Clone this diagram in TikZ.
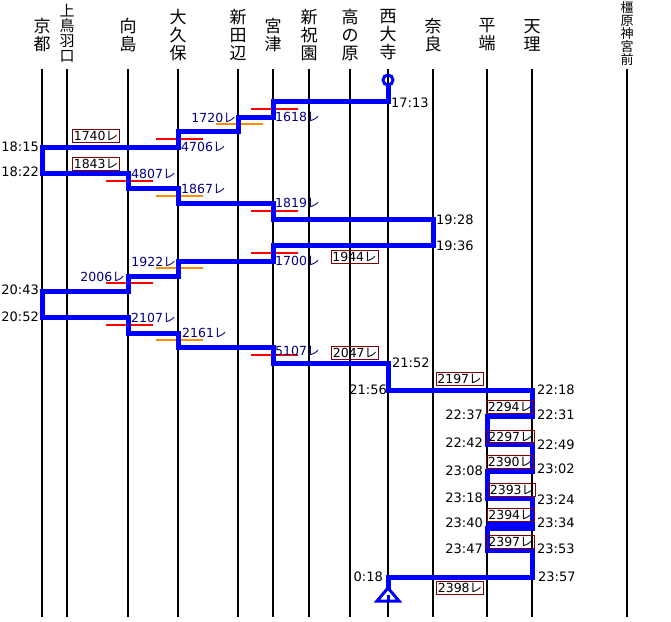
\documentclass[tikz,border=0pt]{standalone}
\usepackage{fontspec}
\setmainfont{DejaVu Sans}
\newfontfamily\jp{Noto Sans CJK JP}
\usepackage{tikz}
\usetikzlibrary{calc}
\definecolor{route}{HTML}{0000FF}
\definecolor{navyc}{HTML}{000080}
\definecolor{redc}{HTML}{FF0000}
\definecolor{orgc}{HTML}{FF8C00}
\definecolor{boxc}{HTML}{800000}
\newcommand{\trno}[1]{#1{\jp レ}}
\tikzset{
  rail/.style={line width=2pt,black},
  trip/.style={line width=5pt,route,line join=miter},
  stn/.style={font=\jp\fontsize{17}{18}\selectfont,align=center,inner sep=0pt},
  tm/.style={font=\fontsize{13}{13}\selectfont,inner sep=0pt,text height=9.5pt,text depth=0pt},
  trn/.style={font=\fontsize{12.5}{12.5}\selectfont,text=navyc,inner sep=0pt,text height=9pt,text depth=0pt},
  tagbox/.style={draw=boxc,line width=1pt,font=\fontsize{12.5}{12.5}\selectfont,inner sep=0pt,
    minimum width=47pt,minimum height=13pt,text height=9pt,text depth=0pt},
  mk/.style={line width=1.2pt}
}
\begin{document}
\begin{tikzpicture}[x=1pt,y=-1pt]
\useasboundingbox (0,0) rectangle (671,621);
\fill[white] (0,0) rectangle (671,621);
% stations
\foreach \n/\x/\lab in {kyo/42/{京\\都},muk/128/{向\\島},oku/178/{大\\久\\保},sht/238/{新\\田\\辺},
  miy/273/{宮\\津},shh/309/{新\\祝\\園},tak/350/{高\\の\\原},sai/388/{西\\大\\寺},
  nar/433/{奈\\良},hir/487/{平\\端},ten/532/{天\\理}}{
  \draw[rail] (\x,69) -- (\x,617);
  \node[stn] (s\n) at (\x,35) {\lab};
}
\draw[rail] (67,69) -- (67,617);
\node[stn,font=\jp\fontsize{15}{15}\selectfont] (skam) at (67,33) {上\\鳥\\羽\\口};
\draw[rail] (627,69) -- (627,617);
\node[stn,font=\jp\fontsize{13}{13}\selectfont] (skas) at (627,34) {橿\\原\\神\\宮\\前};
% transfer ticks
\foreach \x/\y/\col in {273/109/redc,238/124/orgc,178/139/redc,128/181/redc,178/196/orgc,
  273/211/redc,273/253/redc,178/268/orgc,128/283/redc,128/325/redc,178/340/orgc,273/355/redc}
  \draw[mk,draw=\col] (\x-22,\y) -- (\x+25,\y);
% route
\draw[trip] (388,85) -- (388,101) -- (273,101) -- (273,117) -- (238,117) -- (238,131)
  -- (178,131) -- (178,147) -- (42,147) -- (42,173) -- (128,173) -- (128,188)
  -- (178,188) -- (178,203) -- (273,203) -- (273,219) -- (433,219) -- (433,245)
  -- (273,245) -- (273,261) -- (178,261) -- (178,276) -- (128,276) -- (128,291)
  -- (42,291) -- (42,317) -- (128,317) -- (128,333) -- (178,333) -- (178,347)
  -- (273,347) -- (273,363) -- (388,363) -- (388,390) -- (532,390) -- (532,416)
  -- (487,416) -- (487,444) -- (532,444) -- (532,471) -- (487,471) -- (487,498)
  -- (532,498) -- (532,528) -- (487,528) -- (487,550) -- (532,550) -- (532,577)
  -- (388,577) -- (388,590);
\draw[trip] (487,523) -- (532,523);
\draw[route,line width=3pt] (388,80) circle (5);
\draw[route,line width=3pt,fill=white,line join=miter] (388,588) -- (399,601) -- (377,601) -- cycle;
\fill[route] (386.5,595) rectangle (389.5,600);
% train numbers
\node[trn,anchor=west] (n1618) at (275,117) {\trno{1618}};
\node[trn,anchor=east] (n1720) at (236,118) {\trno{1720}};
\node[trn,anchor=west] (n4706) at (181,147) {\trno{4706}};
\node[trn,anchor=west] (n4807) at (131,174) {\trno{4807}};
\node[trn,anchor=west] (n1867) at (181,189) {\trno{1867}};
\node[trn,anchor=west] (n1819) at (275,203) {\trno{1819}};
\node[trn,anchor=west] (n1700) at (275,261) {\trno{1700}};
\node[trn,anchor=east] (n1922) at (176,262) {\trno{1922}};
\node[trn,anchor=east] (n2006) at (125,277) {\trno{2006}};
\node[trn,anchor=west] (n2107) at (131,318) {\trno{2107}};
\node[trn,anchor=west] (n2161) at (182,333) {\trno{2161}};
\node[trn,anchor=west] (n5107) at (275,351) {\trno{5107}};
\node[tagbox] (b1740) at (96,135.5) {\trno{1740}};
\node[tagbox] (b1843) at (96,163.5) {\trno{1843}};
\node[tagbox] (b1944) at (354.5,256.5) {\trno{1944}};
\node[tagbox] (b2047) at (355,352.5) {\trno{2047}};
\node[tagbox] (b2197) at (459.5,378.5) {\trno{2197}};
\node[tagbox] (b2294) at (510,406.5) {\trno{2294}};
\node[tagbox] (b2297) at (510.5,436.5) {\trno{2297}};
\node[tagbox] (b2390) at (510,461.5) {\trno{2390}};
\node[tagbox] (b2393) at (512,489.5) {\trno{2393}};
\node[tagbox] (b2394) at (510.5,514.5) {\trno{2394}};
\node[tagbox] (b2397) at (510.5,541.5) {\trno{2397}};
\node[tagbox] (b2398) at (460,588) {\trno{2398}};
% times
\foreach \n/\lab/\x/\y in {1713/17:13/391/103,1928/19:28/436/220,1936/19:36/436/246,
  2152/21:52/392/363,2218/22:18/537/390,2231/22:31/537/415,2249/22:49/537/445,
  2302/23:02/537/469,2324/23:24/537/500,2334/23:34/537/523,2353/23:53/537/549,2357/23:57/538/577}
  \node[tm,anchor=west] (t\n) at (\x,\y) {\lab};
\foreach \n/\lab/\x/\y in {1815/18:15/39/147,1822/18:22/39/172,2043/20:43/39/290,
  2052/20:52/39/317,2156/21:56/387/390,2237/22:37/483/415,2242/22:42/483/443,
  2308/23:08/483/471,2318/23:18/483/498,2340/23:40/483/523,2347/23:47/483/549,018/0:18/383/577}
  \node[tm,anchor=east] (t\n) at (\x,\y) {\lab};
\end{tikzpicture}
\end{document}
